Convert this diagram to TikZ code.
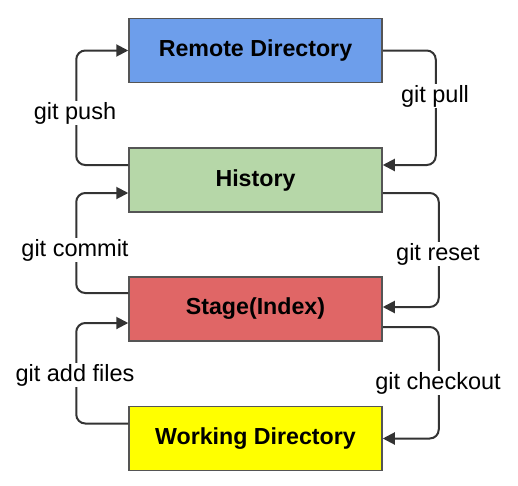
\documentclass[tikz,border=0pt]{standalone}
\usepackage{fontspec}
\setmainfont{Liberation Sans}
\usetikzlibrary{arrows.meta}
\definecolor{rblue}{HTML}{6D9EEB}
\definecolor{hgreen}{HTML}{B6D7A8}
\definecolor{sred}{HTML}{E06666}
\definecolor{wyellow}{HTML}{FFFF00}
\definecolor{edge}{HTML}{555555}
\definecolor{wire}{HTML}{333333}
\begin{document}
\begin{tikzpicture}[x=1pt,y=-1pt,
  box/.style={draw=edge,line width=1.5pt,minimum width=253pt,minimum height=64pt,inner sep=0pt,
    font=\fontsize{23.2}{27}\selectfont\bfseries},
  conn/.style={draw=wire,line width=2pt,rounded corners=9pt,-{Triangle[length=12pt,width=12pt]}},
  lbl/.style={fill=white,inner sep=1.5pt,font=\fontsize{23.5}{27}\selectfont}]
\useasboundingbox (0,0) rectangle (518,485);
\node[box,fill=rblue]   (remote) at (255.5,50.5)  {Remote Directory};
\node[box,fill=hgreen]  (hist)   at (255.5,180)   {History};
\node[box,fill=sred]    (stage)  at (255.5,309)   {Stage(Index)};
\node[box,fill=wyellow] (work)   at (255.5,438.5) {Working Directory};
% left side
\draw[conn] ([yshift=15pt]hist.west)  -- ++(-52,0) |- (remote.west);
\draw[conn] ([yshift=16pt]stage.west) -- ++(-52,0) |- ([yshift=-13pt]hist.west);
\draw[conn] ([yshift=15pt]work.west)  -- ++(-52,0) |- ([yshift=-14pt]stage.west);
% right side
\draw[conn] (remote.east) -- ++(53,0) |- ([yshift=15pt]hist.east);
\draw[conn] ([yshift=-13pt]hist.east)  -- ++(56,0) |- ([yshift=2pt]stage.east);
\draw[conn] ([yshift=-18pt]stage.east) -- ++(56,0) |- (work.east);
% labels
\node[lbl] (lpush)  at (75,113)  {git push};
\node[lbl] (lcommit) at (75,250) {git commit};
\node[lbl] (ladd)   at (75,375)  {git add files};
\node[lbl] (lpull)  at (435,96)  {git pull};
\node[lbl] (lreset) at (438,254) {git reset};
\node[lbl] (lcheck) at (438,383) {git checkout};
\end{tikzpicture}
\end{document}
